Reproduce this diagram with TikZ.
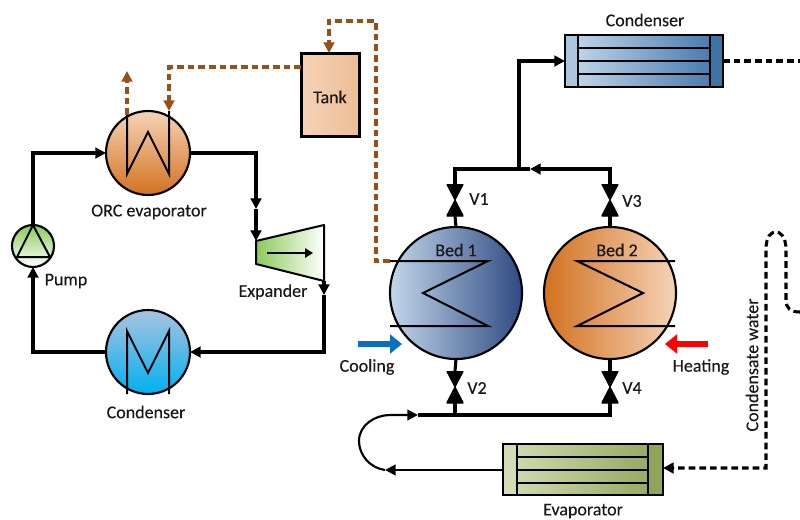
\documentclass[tikz,border=0pt]{standalone}
\usepackage{fontspec}
\setmainfont[FakeBold=0.25]{Carlito}
\usetikzlibrary{arrows.meta}
\definecolor{brownline}{HTML}{98501A}
\definecolor{orcorange}{HTML}{D2711F}
\definecolor{orcpeach}{HTML}{F5D3B8}
\definecolor{bedblue}{HTML}{2F4A82}
\definecolor{bedpale}{HTML}{C2D7EA}
\definecolor{hxblue}{HTML}{3F74A9}
\definecolor{hxpale}{HTML}{C8DBEC}
\definecolor{hxgreen}{HTML}{8FA658}
\definecolor{hxlime}{HTML}{D3DDB5}
\definecolor{pumpgreen}{HTML}{8CCB5A}
\definecolor{skyblue}{HTML}{00B0F0}
\definecolor{condtop}{HTML}{A9C3DF}
\definecolor{coolblue}{HTML}{0A6FC2}
\tikzset{
	flow/.style = {line width=2.3pt, line join=miter, -{Triangle[length=8pt,width=8pt]}},
	pipe/.style = {line width=2.3pt, line join=miter},
	brownpipe/.style = {line width=2.5pt, draw=brownline, dash pattern=on 5pt off 3pt, -{Triangle[length=8pt,width=8pt]}},
	waterpipe/.style = {line width=2.3pt, dash pattern=on 5pt off 3pt},
	coil/.style = {line width=1.5pt, line join=miter},
	vessel/.style = {shape=circle, draw, line width=1.6pt, inner sep=0pt, outer sep=0pt},
	hxbox/.style = {shape=rectangle, draw, line width=2.2pt, inner sep=0pt, outer sep=0pt},
	valve/.style = {shape=rectangle, inner sep=0pt, outer sep=0pt, minimum width=12.5pt, minimum height=24pt,
		path picture={\filldraw[line width=0.8pt, line join=round] (path picture bounding box.south west) -- (path picture bounding box.south east)
			-- (path picture bounding box.north west) -- (path picture bounding box.north east) -- cycle;}},
	txt/.style = {font=\fontsize{13.5}{15}\selectfont, text=black!90, inner sep=0pt}
}
\begin{document}
\begin{tikzpicture}[x=0.75pt, y=-0.75pt]
\useasboundingbox (0,0) rectangle (800,519);
\clip (0,0) rectangle (800,519);

% ORC loop
\node[vessel, minimum size=63pt, top color=orcpeach, bottom color=orcorange] (orc) at (148,153) {};
\node[vessel, minimum size=63pt, top color=condtop, bottom color=skyblue] (orccond) at (148,352) {};
\node[vessel, minimum size=31.5pt, top color=pumpgreen, bottom color=white] (pump) at (33,246) {};
\draw[coil] (127,115) -- (127,174) -- (148,132) -- (169,174) -- (169,111);
\draw[coil] (127,394) -- (127,331) -- (148,373) -- (169,331) -- (169,394);
\draw[coil, line join=round] (pump.north) -- (17,257) -- (50,257) -- cycle;
\coordinate (expin) at (256,241);
\coordinate (expout) at (324,281);
\draw[coil, line join=round, left color=pumpgreen, right color=white]
	(expin) -- (324,225) -- (expout) -- (256,264) -- cycle;
\coordinate (expa) at (267,253);
\coordinate (expb) at (313,253);
\draw[coil, -{Triangle[length=6pt,width=7pt]}] (expa) -- (expb);

\coordinate (pumpcorner) at (33,153);
\coordinate (orcout) at (256,153);
\coordinate (orcmid) at (256,209);
\coordinate (expmid) at (324,295);
\coordinate (expcorner) at (324,352);
\coordinate (condcorner) at (33,352);
\draw[flow] (pump.north) -- (pumpcorner) -- (orc.west);
\draw[flow] (orc.east) -- (orcout) -- (orcmid);
\draw[flow] (orcmid) -- (expin);
\draw[flow] (expout) -- (expmid);
\draw[flow] (expmid) -- (expcorner) -- (orccond.east);
\draw[flow] (orccond.west) -- (condcorner) -- (pump.south);

% heating water
\node[hxbox, line width=2.25pt, minimum width=43.5pt, minimum height=62.25pt, left color=orcpeach, right color=orcpeach!70!orcorange!90!white] (tank) at (330,95) {};
\node[txt] (tanklbl) at (330,97) {Tank};
\coordinate (orcup) at (127,115);
\coordinate (orcupend) at (127,71);
\coordinate (orcdown) at (169,111);
\coordinate (tankleft) at (301,67);
\coordinate (tankcorner) at (169,67);
\coordinate (bedin) at (390,261);
\coordinate (bedcorner) at (376,261);
\coordinate (topright) at (376,21);
\coordinate (topleft) at (329,21);
\coordinate (tanktop) at (329,53);
\draw[brownpipe] (orcup) -- (orcupend);
\draw[brownpipe] (tankleft) -- (tankcorner) -- (orcdown);
\draw[brownpipe] (bedin) -- (bedcorner) -- (topright) -- (topleft) -- (tanktop);

% beds
\node[vessel, minimum size=99pt, left color=bedpale, right color=bedblue] (bedone) at (456,293) {};
\node[vessel, minimum size=99pt, left color=orcorange, right color=orcpeach] (bedtwo) at (610,293) {};
\draw[coil] (390,261) -- (488,261) -- (423,293) -- (488,326) -- (390,326);
\draw[coil] (675,261) -- (577,261) -- (643,293) -- (577,326) -- (675,326);
\node[txt] (bedonelbl) at (456,250) {Bed 1};
\node[txt] (bedtwolbl) at (617,250) {Bed 2};

% valves
\node[valve] (vone) at (455,200) {};
\node[valve] (vthree) at (610,200) {};
\node[valve] (vtwo) at (455,387) {};
\node[valve] (vfour) at (610,387) {};
\node[txt] (vonelbl) at (479,199) {V1};
\node[txt] (vthreelbl) at (632,201) {V3};
\node[txt] (vtwolbl) at (477,388) {V2};
\node[txt] (vfourlbl) at (632,388) {V4};

% condenser
\node[hxbox, minimum width=118.5pt, minimum height=39pt, left color=hxpale, right color=hxblue] (cond) at (644,61) {};
\filldraw[line width=2.2pt, fill=hxpale!80!hxblue] (cond.north west) rectangle (578,87);
\filldraw[line width=2.2pt, fill=hxblue] (710,35) rectangle (cond.south east);
\foreach \rowy in {48,61,74}
	\draw[line width=2.2pt] (578,\rowy) -- (710,\rowy);
\node[txt] (condlbl) at (645,20) {Condenser};

% evaporator
\node[hxbox, minimum width=120pt, minimum height=38.25pt, left color=hxlime, right color=hxgreen] (evap) at (583,469.5) {};
\filldraw[line width=2.2pt, fill=hxlime] (evap.north west) rectangle (517,495);
\filldraw[line width=2.2pt, fill=hxgreen] (648,444) rectangle (evap.south east);
\foreach \rowy in {457,470,483}
	\draw[line width=2.2pt] (517,\rowy) -- (648,\rowy);
\node[txt] (evaplbl) at (583,511) {Evaporator};

% refrigerant
\coordinate (jointop) at (455,169);
\coordinate (splitup) at (519,169);
\coordinate (midtop) at (530,169);
\coordinate (rightop) at (610,169);
\coordinate (condcnr) at (519,61);
\coordinate (condin) at (565,61);
\coordinate (botleft) at (418,415);
\coordinate (botright) at (610,415);
\coordinate (botone) at (455,415);
\coordinate (curveend) at (385,470);
\draw[pipe] (bedone.north) -- (vone.south);
\draw[pipe] (vone.north) -- (jointop) -- (splitup);
\draw[pipe] (bedtwo.north) -- (vthree.south);
\draw[flow] (vthree.north) -- (rightop) -- (midtop);
\draw[pipe] (midtop) -- (splitup);
\draw[flow] (splitup) -- (condcnr) -- (condin);
\draw[pipe] (bedone.south) -- (vtwo.north);
\draw[pipe] (bedtwo.south) -- (vfour.north);
\draw[pipe] (vtwo.south) -- (botone);
\draw[pipe] (vfour.south) -- (botright) -- (botleft);
\draw[flow, line width=1.6pt] (evap.west |- curveend) -- (curveend);
\draw[flow, line width=1.6pt] (curveend) .. controls (370,468) and (359,455) .. (359,441) .. controls (359,425) and (375,415) .. (390,415) -- (botleft);

% water
\coordinate (condout) at (cond.east);
\coordinate (rightedge) at (800,61);
\coordinate (evapcnr) at (766,468);
\coordinate (loopa) at (766,250);
\coordinate (loopb) at (786,250);
\coordinate (loopc) at (786,300);
\coordinate (loopd) at (800,312);
\draw[waterpipe] (condout) -- (rightedge);
\draw[waterpipe, -{Triangle[length=8pt,width=8pt]}] (loopd) .. controls (790,312) and (786,308) .. (loopc) -- (loopb)
	.. controls (786,236) and (780,232) .. (776,232) .. controls (771,232) and (766,236) .. (loopa) -- (evapcnr) -- (evap.east |- evapcnr);
\node[txt, rotate=90] (waterlbl) at (752,365) {Condensate water};

% cooling and heating
\coordinate (coola) at (358,344);
\coordinate (coolb) at (402,344);
\coordinate (heata) at (708,344);
\coordinate (heatb) at (665,344);
\draw[line width=5pt, draw=coolblue, -{Triangle[length=9pt,width=14pt]}] (coola) -- (coolb);
\draw[line width=5pt, draw=red, -{Triangle[length=9pt,width=14pt]}] (heata) -- (heatb);

% labels
\node[txt] (orclbl) at (149,212) {ORC evaporator};
\node[txt] (pumplbl) at (66,281) {Pump};
\node[txt] (explbl) at (273,292) {Expander};
\node[txt] (orccondlbl) at (146,412) {Condenser};
\node[txt] (coollbl) at (367,367) {Cooling};
\node[txt] (heatlbl) at (701,367) {Heating};
\end{tikzpicture}
\end{document}
